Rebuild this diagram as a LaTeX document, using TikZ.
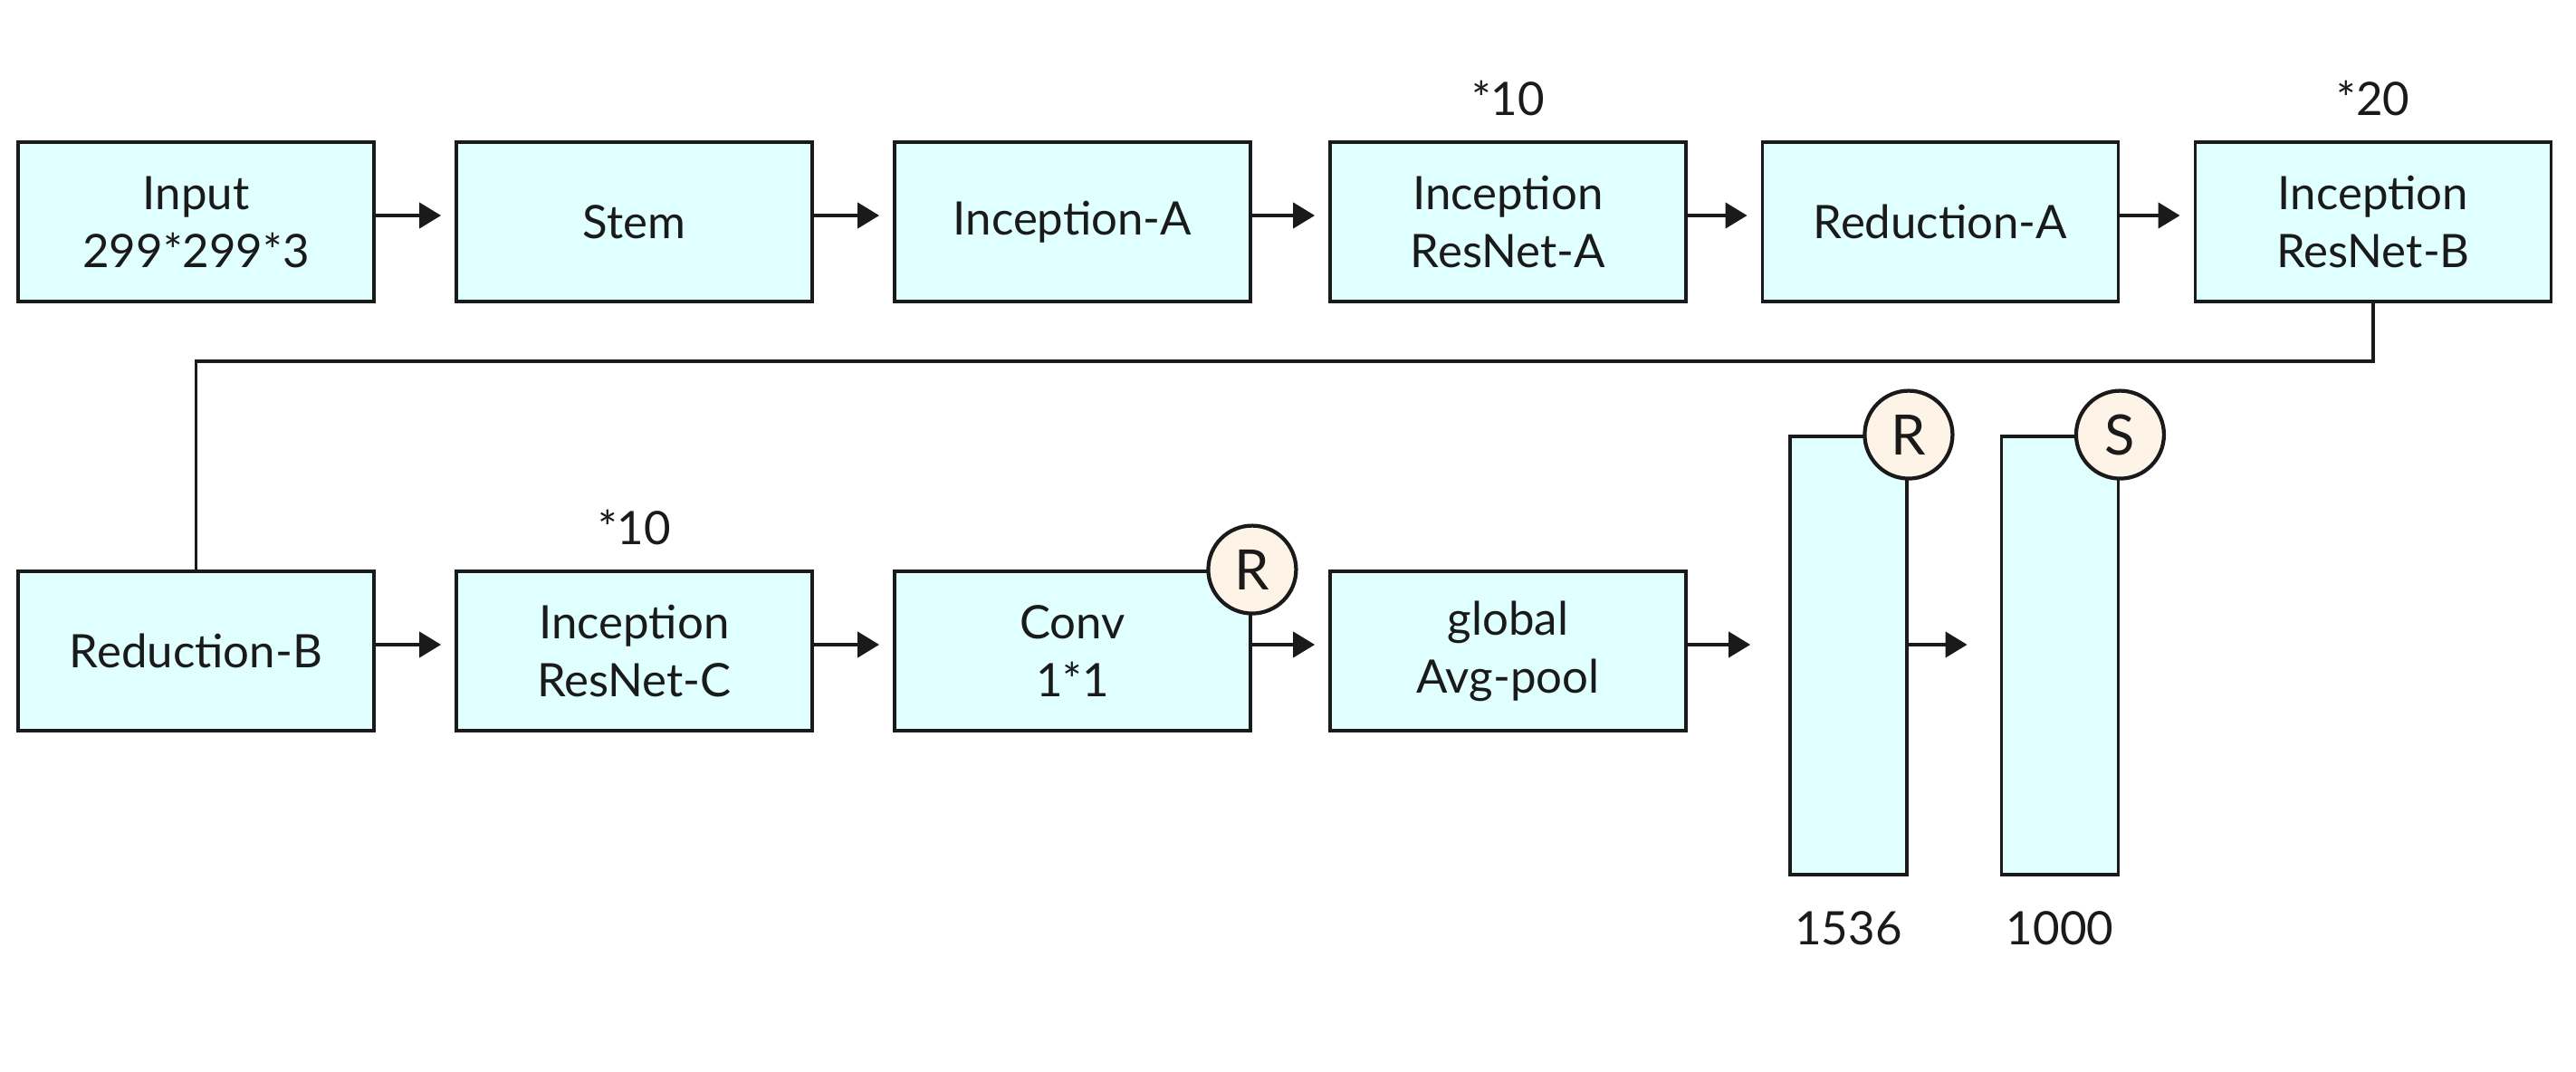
\documentclass[tikz,border=0pt]{standalone}
\usepackage{fontspec}
\setmainfont{Lato}
\usepackage{tikz}
\usetikzlibrary{arrows.meta,positioning}
\definecolor{boxfill}{HTML}{E0FFFF}
\definecolor{dotfill}{HTML}{FDF3E6}
\definecolor{linecol}{HTML}{1A1A1A}

\begin{document}
\begin{tikzpicture}[x=1cm,y=1cm,
  every node/.style={font=\fontsize{14.5}{18.2}\selectfont,text=linecol},
  block/.style={draw=linecol,line width=1.1pt,fill=boxfill,minimum width=3.93cm,minimum height=1.76cm,align=center,inner sep=0pt},
  tall/.style={draw=linecol,line width=1.1pt,fill=boxfill,minimum width=1.29cm,minimum height=4.84cm,inner sep=0pt},
  act/.style={circle,draw=linecol,line width=1.2pt,fill=dotfill,minimum size=0.97cm,inner sep=0pt,font=\fontsize{17.5}{20}\selectfont},
  link/.style={draw=linecol,line width=1pt,-{Triangle[length=6.8pt,width=8pt]},shorten >=0.15cm}]
\useasboundingbox (0,0) rectangle (28.45,-11.83);

% first row
\node[block] (input) at (2.165,-2.45) {Input\\299*299*3};
\node[block] (stem) at (7.005,-2.45) {Stem};
\node[block] (inca) at (11.845,-2.45) {Inception-A};
\node[block] (resa) at (16.655,-2.45) {Inception\\ResNet-A};
\node[block] (reda) at (21.43,-2.45) {Reduction-A};
\node[block] (resb) at (26.21,-2.45) {Inception\\ResNet-B};
\node (repa) at ([yshift=0.47cm]resa.north) {*10};
\node (repb) at ([yshift=0.47cm]resb.north) {*20};

% second row
\node[block] (redb) at (2.165,-7.19) {Reduction-B};
\node[block] (resc) at (7.005,-7.19) {Inception\\ResNet-C};
\node[block] (conv) at (11.845,-7.19) {Conv\\1*1};
\node[block] (gap) at (16.655,-7.19) {global\\Avg-pool};
\node (repc) at ([yshift=0.47cm]resc.north) {*10};
\node[tall] (fca) at (20.415,-7.24) {};
\node[tall] (fcb) at (22.75,-7.24) {};
\node (dima) at ([yshift=-0.57cm]fca.south) {1536};
\node (dimb) at ([yshift=-0.57cm]fcb.south) {1000};

% activations
\node[act] (rconv) at (conv.north east) {R};
\node[act] (rfca) at (fca.north east) {R};
\node[act] (sfcb) at (fcb.north east) {S};

% connectors
\draw[link] ([yshift=0.07cm]input.east) -- ([yshift=0.07cm]stem.west);
\draw[link] ([yshift=0.07cm]stem.east) -- ([yshift=0.07cm]inca.west);
\draw[link] ([yshift=0.07cm]inca.east) -- ([yshift=0.07cm]resa.west);
\draw[link] ([yshift=0.07cm]resa.east) -- ([yshift=0.07cm]reda.west);
\draw[link] ([yshift=0.07cm]reda.east) -- ([yshift=0.07cm]resb.west);
\coordinate (turn) at (2.165,-3.99);
\draw[draw=linecol,line width=1pt] (resb.south) |- (turn) -- (redb.north);
\draw[link] ([yshift=0.07cm]redb.east) -- ([yshift=0.07cm]resc.west);
\draw[link] ([yshift=0.07cm]resc.east) -- ([yshift=0.07cm]conv.west);
\draw[link] ([yshift=0.07cm]conv.east) -- ([yshift=0.07cm]gap.west);
\coordinate (fcin) at ([yshift=0.07cm]gap.east -| fca.west);
\coordinate (fcout) at ([yshift=0.07cm]gap.east -| fca.east);
\draw[link,shorten >=0.42cm] ([yshift=0.07cm]gap.east) -- (fcin);
\draw[link,shorten >=0.36cm] (fcout) -- (fcout -| fcb.west);
\end{tikzpicture}
\end{document}
